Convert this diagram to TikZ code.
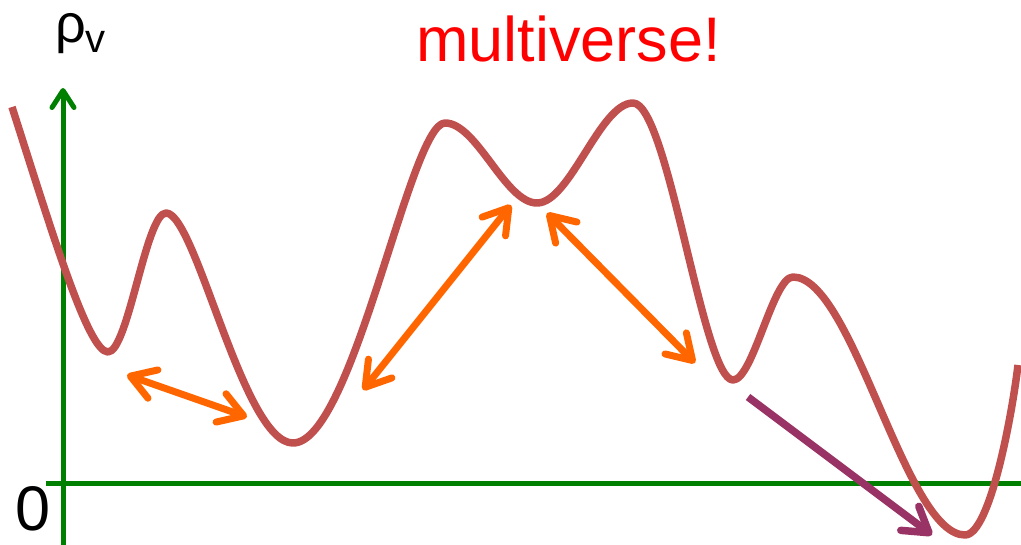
\documentclass[tikz,border=0pt]{standalone}
\usepackage{fontspec}
\setmainfont{Liberation Sans}
\usepackage{xcolor}
\usepackage{tikz}
\usetikzlibrary{arrows.meta, positioning, calc}
\definecolor{landscape}{HTML}{C0504D}
\definecolor{hop}{HTML}{FF6600}
\definecolor{axisgreen}{HTML}{008000}
\definecolor{decay}{HTML}{993366}
\tikzstyle{axis} = [line width=5pt, draw=axisgreen]
\tikzstyle{potential} = [line width=7.5pt, draw=landscape, line join=round]
\tikzstyle{tunnel} = [line width=7pt, draw=hop, line cap=round, {Straight Barb[length=24pt, width=30pt, round]}-{Straight Barb[length=24pt, width=30pt, round]}]
\tikzstyle{fall} = [line width=7.5pt, draw=decay, -{Straight Barb[length=24pt, width=30pt, round]}]
\tikzstyle{bigtext} = [inner sep=0pt, anchor=base west]

\begin{document}
\begin{tikzpicture}[x=1pt, y=-1pt]
\useasboundingbox (0,0) rectangle (1021,545);

% axes
\coordinate (origin) at (63,483);
\draw [axis, -{Straight Barb[length=17pt, width=22pt, round]}] (63,545) -- (63,88);
\draw [axis] (46,483) -- (1021,483);

% vacuum energy landscape
\draw [potential] (12,107)
  .. controls (52,232) and (88,352) .. (108,352)
  .. controls (128,352) and (146,213) .. (166,213)
  .. controls (196,213) and (243,443) .. (293,443)
  .. controls (353,443) and (410,123) .. (445,123)
  .. controls (477,123) and (505,203) .. (537,203)
  .. controls (570,203) and (600,103) .. (633,103)
  .. controls (668,103) and (703,380) .. (733,380)
  .. controls (753,380) and (773,277) .. (793,277)
  .. controls (853,277) and (905,535) .. (965,535)
  .. controls (990,535) and (1012,415) .. (1018,365);

% transitions between vacua
\coordinate (h1a) at (127,375);
\coordinate (h1b) at (247,417);
\coordinate (h2a) at (363,390);
\coordinate (h2b) at (511,205);
\coordinate (h3a) at (547,213);
\coordinate (h3b) at (695,363);
\coordinate (d1) at (748,397);
\coordinate (d2) at (932,535);
\draw [tunnel] (h1a) -- (h1b);
\draw [tunnel] (h2a) -- (h2b);
\draw [tunnel] (h3a) -- (h3b);
\draw [fall] (d1) -- (d2);

\node (rho) [bigtext] at (55,43) {\fontsize{54}{60}\selectfont ρ\raisebox{-10pt}{\fontsize{40}{44}\selectfont v}};
\node (zero) [bigtext] at (15,530) {\fontsize{63}{70}\selectfont 0};
\node (title) [bigtext, text=red] at (416,62) {\fontsize{63}{70}\selectfont multiverse!};
\end{tikzpicture}
\end{document}
